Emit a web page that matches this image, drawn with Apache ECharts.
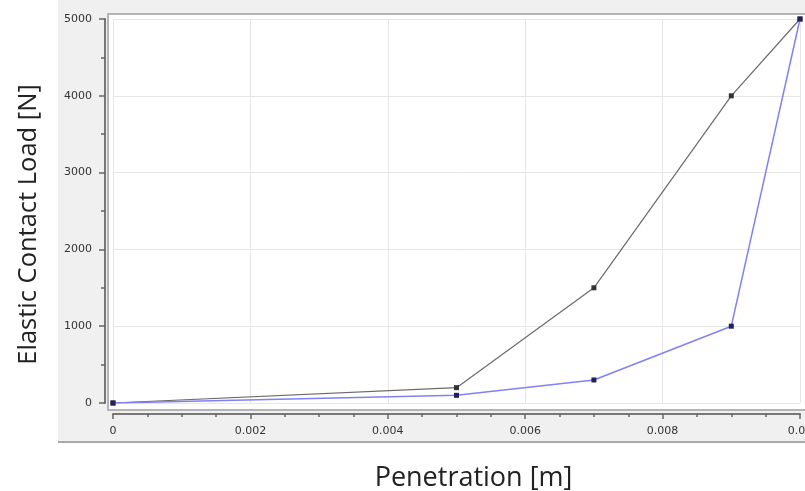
<!DOCTYPE html>
<html>
<head>
<meta charset="utf-8">
<script src="https://cdn.jsdelivr.net/npm/echarts@6/dist/echarts.min.js"></script>
<style>
html,body{margin:0;padding:0;background:#fff;}
#c{width:805px;height:491px;}
</style>
</head>
<body>
<div id="c"></div>
<script>
var penetration = [0, 0.005, 0.007, 0.009, 0.01];
var loadGray = [0, 200, 1500, 4000, 5000];
var loadBlue = [0, 100, 300, 1000, 5000];
var xTitle = 'Penetration [m]';
var yTitle = 'Elastic Contact Load [N]';

function pairs(xs, ys){ return xs.map(function(x,i){ return [x, ys[i]]; }); }

var chart = echarts.init(document.getElementById('c'), null, {renderer:'canvas'});
var labelFont = {fontFamily:'DejaVu Sans', fontSize:11, color:'#333'};

chart.setOption({
  animation:false,
  backgroundColor:'#fff',
  graphic:[
    {type:'rect', z:-10, silent:true, shape:{x:58,y:0,width:747,height:442}, style:{fill:'#f0f0f0'}},
    {type:'line', z:-9, silent:true, shape:{x1:58,y1:442,x2:805,y2:442}, style:{stroke:'#a8a8a8',lineWidth:2}},
    {type:'rect', z:-8, silent:true, shape:{x:108,y:14,width:700,height:396}, style:{fill:'#fff',stroke:'#b4b4b4',lineWidth:2}}
  ],
  grid:{left:113, right:5, top:19, bottom:88, containLabel:false, outerBoundsMode:'none'},
  xAxis:{
    type:'value', min:0, max:0.01, interval:0.002,
    offset:11,
    name:xTitle, nameLocation:'middle', nameGap:51,
    nameTextStyle:{padding:[0,0,0,34], fontFamily:'Open Sans', fontSize:27, color:'#222'},
    axisLine:{show:true, onZero:false, lineStyle:{color:'#777', width:2}},
    axisTick:{show:true, length:5, lineStyle:{color:'#666', width:1.5}},
    minorTick:{show:true, splitNumber:4, length:3, lineStyle:{color:'#666', width:1.5}},
    axisLabel:Object.assign({margin:12, formatter:function(v){return String(v);}}, labelFont),
    splitLine:{show:true, lineStyle:{color:'#e6e6e6', width:1}}
  },
  yAxis:{
    type:'value', min:0, max:5000, interval:1000,
    offset:8,
    name:yTitle, nameLocation:'middle', nameGap:63,
    nameTextStyle:{padding:[0,27,0,0], fontFamily:'Open Sans', fontSize:25.5, color:'#222'},
    axisLine:{show:true, onZero:false, lineStyle:{color:'#777', width:2}},
    axisTick:{show:true, length:6, lineStyle:{color:'#666', width:1.5}},
    minorTick:{show:true, splitNumber:2, length:4, lineStyle:{color:'#666', width:1.5}},
    axisLabel:Object.assign({margin:13, formatter:function(v){return String(v);}}, labelFont),
    splitLine:{show:true, lineStyle:{color:'#e6e6e6', width:1}}
  },
  series:[
    {type:'line', data:pairs(penetration, loadGray), symbol:'rect', symbolSize:5,
     lineStyle:{color:'#6a6a6a', width:1.2}, itemStyle:{color:'#333'}, z:3},
    {type:'line', data:pairs(penetration, loadBlue), symbol:'rect', symbolSize:5,
     lineStyle:{color:'#8080f8', width:1.5}, itemStyle:{color:'#22225a'}, z:4}
  ]
});
</script>
</body>
</html>
